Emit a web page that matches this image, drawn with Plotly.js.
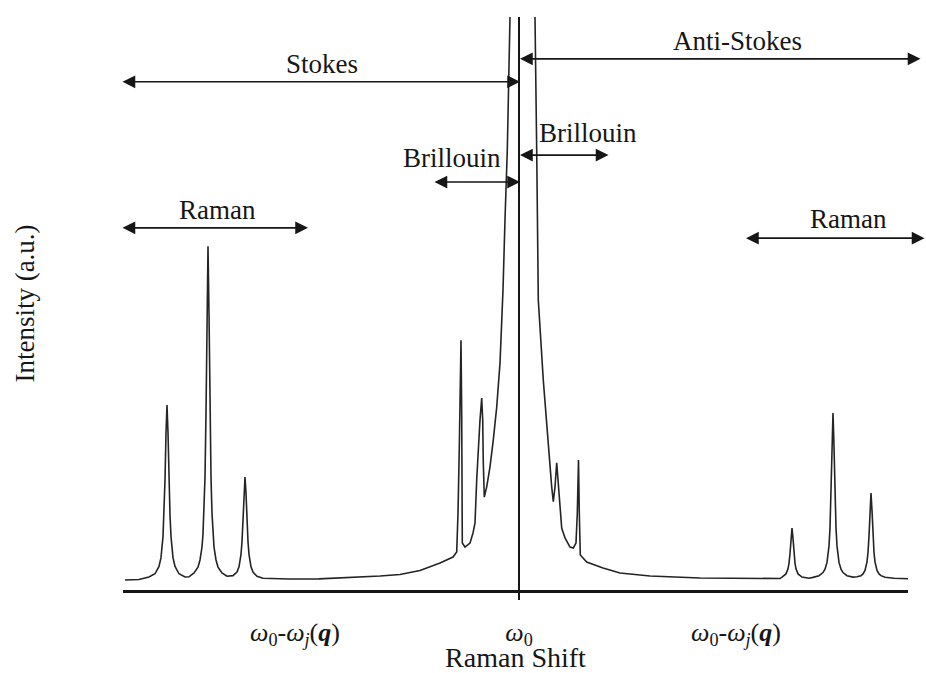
<!DOCTYPE html>
<html>
<head>
<meta charset="utf-8">
<script src="https://cdn.plot.ly/plotly-3.0.1.min.js"></script>
<style>
  html, body { margin: 0; padding: 0; background: #ffffff; }
  #chart { width: 926px; height: 673px; }
</style>
</head>
<body>
<div id="chart"></div>
<script>
// Raman shift (arbitrary units, Rayleigh line ω0 at 0) and intensity (a.u.)
// Stokes side of the spectrum, up to the Rayleigh line
const shiftStokes = [
  -394, -380, -370, -364, -360, -358, -356, -355, -354, -353, -352, -351, -350, -349, -348, -346, -344, -340, -334,
  -330, -325, -321, -319, -317, -316, -315, -314, -313, -312, -311, -310, -309, -308, -307, -306, -305, -303, -301, -297, -292,
  -286, -282, -280, -278, -277, -276, -275, -274, -273, -272, -271, -270, -268, -266, -262, -256, -230, -200,
  -169, -139, -119, -99, -79, -66, -62.3, -61, -59.7, -58.7, -58, -57.3, -57, -56.7, -54, -49, -46, -44,
  -42.3, -40.7, -39, -37.3, -36.3, -35.7, -34.7, -32.3, -29, -25.7, -22.3, -19, -16, -14, -11.7, -9, -8.8
];
const intensityStokes = [
  1.75, 1.83, 2.27, 2.83, 4.1, 5.65, 9.34, 13.1, 19.2, 27.4, 32.3, 27.4, 19.2, 13.1, 9.34, 5.65, 4.1, 2.83, 2.27,
  2.3, 2.97, 4.0, 5.24, 7.5, 9.77, 13.4, 19.7, 30.9, 48.3, 60.0, 48.3, 30.9, 19.7, 13.4, 9.77, 7.5, 5.24, 4.0, 2.97, 2.4,
  2.5, 3.12, 4.05, 6.23, 8.41, 12.0, 16.9, 19.7, 16.9, 12.0, 8.41, 6.23, 4.05, 3.12, 2.38, 2.04, 1.92, 1.95,
  2.18, 2.44, 2.71, 3.4, 4.71, 5.76, 6.63, 13.4, 24.9, 36.6, 43.6, 30.9, 13.4, 8.2, 7.5, 8.2, 9.95, 11.7,
  19.2, 24.9, 29.7, 33.5, 29.7, 22.2, 16.2, 18.0, 21.5, 26.2, 31.9, 39.6, 52.4, 64.6, 76.8, 100, 102
];

// Anti-Stokes side of the spectrum, from the Rayleigh line outwards
const shiftAntiStokes = [
  15.7, 16, 17.7, 19.3, 24.3, 29.3, 32.7, 34.3, 36, 37.7, 39.3, 41, 42.7, 46, 51, 54.3, 57, 58.3, 59.5, 60.3, 61.3,
  67.7, 84, 101, 131, 181, 241,
  261, 263, 267, 269, 270, 271, 272, 273, 274, 275, 276, 277, 279, 283, 290,
  294, 300, 304, 306, 308, 310, 311, 312, 313, 314, 315, 316, 317, 318, 320, 322, 324, 328, 334,
  338, 342, 344, 346, 348, 349, 350, 351, 352, 353, 354, 355, 356, 358, 360, 362, 366, 375, 391
];
const intensityAntiStokes = [
  102, 100, 76.8, 50.6, 36.6, 25.0, 18.0, 15.4, 18.0, 22.2, 18.0, 13.4, 10.8, 9.08, 7.5, 7.33, 8.2, 13.4, 22.7, 13.4, 6.1,
  4.89, 3.84, 2.97, 2.44, 2.09, 2.0,
  2.0, 2.26, 2.81, 3.7, 4.66, 6.37, 9.0, 10.8, 9.0, 6.37, 4.66, 3.7, 2.81, 2.26, 2.05,
  2.2, 2.5, 3.04, 3.62, 4.82, 7.7, 10.8, 16.4, 25.1, 30.9, 25.1, 16.4, 10.8, 7.7, 4.82, 3.62, 3.04, 2.5, 2.25,
  2.3, 2.5, 2.8, 3.42, 4.92, 6.54, 9.42, 13.9, 16.9, 13.9, 9.42, 6.54, 4.92, 3.42, 2.8, 2.5, 2.22, 2.05, 1.95
];

// Tick positions and labels on the shift axis
const tickShifts = [-224, 0, 217];
const tickLabels = [
  '<i>ω</i><sub>0</sub>-<i>ω</i><sub><i>j</i></sub>(<b><i>q</i></b>)',
  '<i>ω</i><sub>0</sub>',
  '<i>ω</i><sub>0</sub>-<i>ω</i><sub><i>j</i></sub>(<b><i>q</i></b>)'
];

// Scattering regions: name, inner and outer end of the span, level of the arrow
const regionNames = ['Stokes', 'Anti-Stokes', 'Brillouin', 'Brillouin', 'Raman', 'Raman'];
const regionInner = [1, 1, 1, 1, -211, 227];
const regionOuter = [-398, 403, -86, 91, -398, 407];
const regionLevel = [88.7, 92.7, 71.2, 75.9, 63.2, 61.4];

// Where each region's name is written
const labelSpots = [
  { x: -197, y: 91.8 },
  { x: 218, y: 95.8 },
  { x: -67, y: 75.4 },
  { x: 69, y: 79.8 },
  { x: -302, y: 66.4 },
  { x: 329, y: 64.7 }
];

const INK = '#161616';
const SERIF = 'Liberation Serif, Times New Roman, serif';

const lineStyle = { color: '#242424', width: 1.6, shape: 'linear' };
const traces = [
  { x: shiftStokes, y: intensityStokes, type: 'scatter', mode: 'lines', line: lineStyle, hoverinfo: 'skip' },
  { x: shiftAntiStokes, y: intensityAntiStokes, type: 'scatter', mode: 'lines', line: lineStyle, hoverinfo: 'skip' }
];

const annotations = [];
regionNames.forEach(function (name, i) {
  annotations.push({
    x: regionInner[i], y: regionLevel[i], xref: 'x', yref: 'y',
    ax: regionOuter[i], ay: regionLevel[i], axref: 'x', ayref: 'y',
    text: '', showarrow: true, arrowside: 'end+start',
    arrowhead: 2, startarrowhead: 2, arrowsize: 1.5, startarrowsize: 1.5,
    arrowwidth: 1.7, arrowcolor: INK, standoff: 0, startstandoff: 0
  });
  annotations.push({
    x: labelSpots[i].x, y: labelSpots[i].y, xref: 'x', yref: 'y',
    text: name, showarrow: false,
    font: { family: SERIF, size: 27, color: INK }
  });
});

const layout = {
  width: 926,
  height: 673,
  margin: { l: 123, r: 18, t: 17, b: 83 },
  paper_bgcolor: '#ffffff',
  plot_bgcolor: '#ffffff',
  showlegend: false,
  font: { family: SERIF, size: 27, color: INK },
  xaxis: {
    range: [-396, 389],
    showgrid: false,
    zeroline: false,
    showline: true,
    linecolor: INK,
    linewidth: 2.6,
    ticks: '',
    tickvals: tickShifts,
    ticktext: tickLabels,
    tickfont: { family: SERIF, size: 26, color: INK },
    ticklabelstandoff: 17,
    title: { text: 'Raman Shift', font: { family: SERIF, size: 28, color: INK }, standoff: 0 },
    fixedrange: true
  },
  yaxis: {
    range: [0, 100],
    showgrid: false,
    zeroline: false,
    showline: false,
    showticklabels: false,
    ticks: '',
    title: { text: 'Intensity (a.u.)', font: { family: SERIF, size: 27, color: INK }, standoff: 79 },
    fixedrange: true
  },
  shapes: [
    // Rayleigh line at ω0
    { type: 'line', xref: 'x', yref: 'paper', x0: 0, x1: 0, y0: -0.0175, y1: 1,
      line: { color: INK, width: 2 } }
  ],
  annotations: annotations
};

Plotly.newPlot('chart', traces, layout, { displayModeBar: false, staticPlot: true });
</script>
</body>
</html>
